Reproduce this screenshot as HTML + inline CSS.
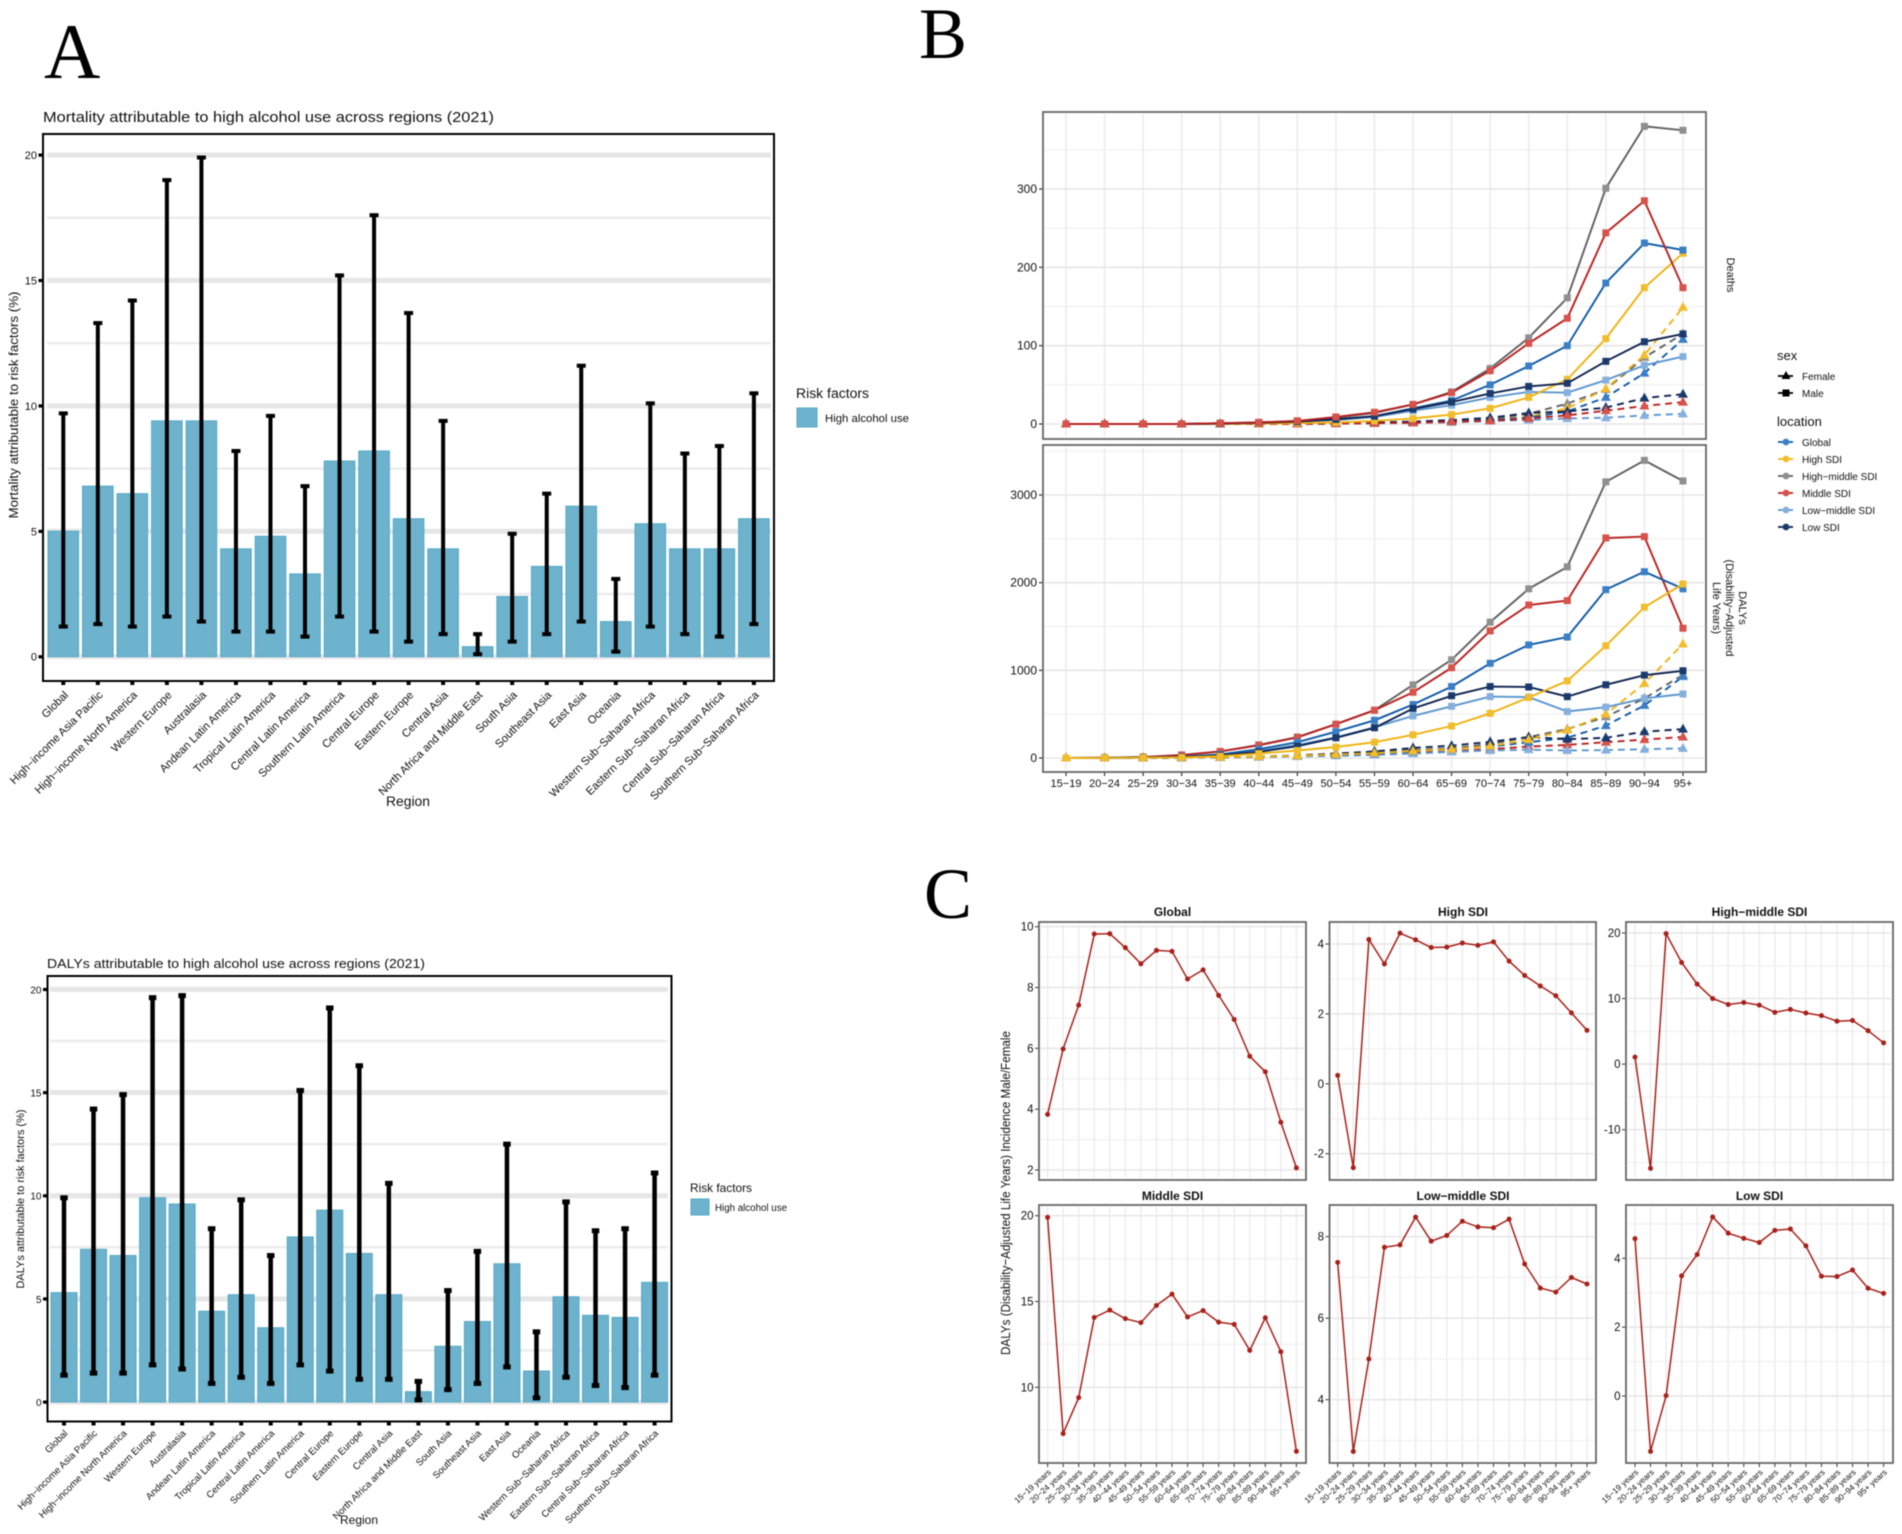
<!DOCTYPE html>
<html lang="en">
<head>
<meta charset="utf-8">
<title>High alcohol use burden figure</title>
<style>
html,body{margin:0;padding:0;background:#fff;}
svg{display:block;filter:blur(0.5px);}
text{font-family:"Liberation Sans",sans-serif;fill:#111;}
.letter{font-family:"Liberation Serif",serif;fill:#000;}
</style>
</head>
<body>
<svg id="figure" xmlns="http://www.w3.org/2000/svg" width="1902" height="1534" viewBox="0 0 1902 1534">
  <rect x="0" y="0" width="1902" height="1534" fill="#fff"/>

  <text class="letter" x="44" y="78" font-size="78">A</text>
  <text class="letter" x="919" y="58" font-size="72">B</text>
  <text class="letter" x="924" y="918" font-size="72">C</text>

  <!-- Panel A top -->
  <g>
    <text x="43" y="122" font-size="14.5" textLength="451" lengthAdjust="spacingAndGlyphs">Mortality attributable to high alcohol use across regions (2021)</text>
    <g id="a1-plot"></g>
    <rect x="43" y="134" width="731" height="547" fill="none" stroke="#000" stroke-width="2"/>
    <text transform="translate(18,405) rotate(-90)" text-anchor="middle" font-size="13" textLength="227" lengthAdjust="spacingAndGlyphs">Mortality attributable to risk factors (%)</text>
    <text x="408" y="806" text-anchor="middle" font-size="13.5" textLength="44" lengthAdjust="spacingAndGlyphs">Region</text>
    <text x="796" y="398" font-size="13.5" textLength="73" lengthAdjust="spacingAndGlyphs">Risk factors</text>
    <rect x="797" y="408" width="20" height="19" fill="#6db3cd" stroke="#55a8c6"/>
    <text x="825" y="422" font-size="11" textLength="84" lengthAdjust="spacingAndGlyphs">High alcohol use</text>
  </g>

  <!-- Panel A bottom -->
  <g>
    <text x="47" y="968" font-size="13" textLength="378" lengthAdjust="spacingAndGlyphs">DALYs attributable to high alcohol use across regions (2021)</text>
    <g id="a2-plot"></g>
    <rect x="47.5" y="976" width="624" height="445.5" fill="none" stroke="#000" stroke-width="2"/>
    <text transform="translate(24,1199) rotate(-90)" text-anchor="middle" font-size="11" textLength="179" lengthAdjust="spacingAndGlyphs">DALYs attributable to risk factors (%)</text>
    <text x="359" y="1524" text-anchor="middle" font-size="12" textLength="38" lengthAdjust="spacingAndGlyphs">Region</text>
    <text x="690" y="1192" font-size="12" textLength="62" lengthAdjust="spacingAndGlyphs">Risk factors</text>
    <rect x="691" y="1199" width="18" height="16" fill="#6db3cd" stroke="#55a8c6"/>
    <text x="715" y="1211" font-size="10" textLength="72" lengthAdjust="spacingAndGlyphs">High alcohol use</text>
  </g>

  <!-- Panel B -->
  <g>
    <g id="b1-plot"></g>
    <rect x="1043" y="112" width="663" height="327" fill="none" stroke="#666" stroke-width="1.8"/>
    <g id="b2-plot"></g>
    <rect x="1043" y="445" width="663" height="327" fill="none" stroke="#666" stroke-width="1.8"/>
    <text transform="translate(1727,275) rotate(90)" text-anchor="middle" font-size="11">Deaths</text>
    <text transform="translate(1739,608) rotate(90)" text-anchor="middle" font-size="11">DALYs</text>
    <text transform="translate(1726,608) rotate(90)" text-anchor="middle" font-size="11">(Disability−Adjusted</text>
    <text transform="translate(1713,608) rotate(90)" text-anchor="middle" font-size="11">Life Years)</text>

    <g>
      <text x="1777" y="360" font-size="13">sex</text>
      <line x1="1778" y1="376" x2="1793" y2="376" stroke="#000" stroke-width="1.8"/>
      <polygon points="1786,371 1790.5,379 1781.5,379" fill="#000"/>
      <text x="1802" y="380" font-size="10">Female</text>
      <line x1="1778" y1="393" x2="1793" y2="393" stroke="#000" stroke-width="1.8"/>
      <rect x="1782.5" y="389.5" width="7" height="7" fill="#000"/>
      <text x="1802" y="397" font-size="10">Male</text>
    </g>
    <g>
      <text x="1777" y="426" font-size="13">location</text>
      <line x1="1778" y1="442" x2="1793" y2="442" stroke="#0f5aa6" stroke-width="1.8"/>
      <circle cx="1786" cy="442" r="3.4" fill="#3a7fc6"/>
      <text x="1802" y="446" font-size="10">Global</text>
      <line x1="1778" y1="459" x2="1793" y2="459" stroke="#efb20f" stroke-width="1.8"/>
      <circle cx="1786" cy="459" r="3.4" fill="#f2bd2c"/>
      <text x="1802" y="463" font-size="10">High SDI</text>
      <line x1="1778" y1="476" x2="1793" y2="476" stroke="#5f5f5f" stroke-width="1.8"/>
      <circle cx="1786" cy="476" r="3.4" fill="#8f8f8f"/>
      <text x="1802" y="480" font-size="10">High−middle SDI</text>
      <line x1="1778" y1="493" x2="1793" y2="493" stroke="#b8201f" stroke-width="1.8"/>
      <circle cx="1786" cy="493" r="3.4" fill="#d6524a"/>
      <text x="1802" y="497" font-size="10">Middle SDI</text>
      <line x1="1778" y1="510" x2="1793" y2="510" stroke="#5b96cf" stroke-width="1.8"/>
      <circle cx="1786" cy="510" r="3.4" fill="#86b0dc"/>
      <text x="1802" y="514" font-size="10">Low−middle SDI</text>
      <line x1="1778" y1="527" x2="1793" y2="527" stroke="#0f2350" stroke-width="1.8"/>
      <circle cx="1786" cy="527" r="3.4" fill="#1a3a6e"/>
      <text x="1802" y="531" font-size="10">Low SDI</text>
    </g>
  </g>

  <!-- Panel C -->
  <g>
    <text transform="translate(1010,1193) rotate(-90)" text-anchor="middle" font-size="13" textLength="324" lengthAdjust="spacingAndGlyphs">DALYs (Disability−Adjusted Life Years) Incidence Male/Female</text>
    <text x="1172.5" y="916" text-anchor="middle" font-size="12" font-weight="bold">Global</text>
    <text x="1463" y="916" text-anchor="middle" font-size="12" font-weight="bold">High SDI</text>
    <text x="1759.5" y="916" text-anchor="middle" font-size="12" font-weight="bold">High−middle SDI</text>
    <text x="1172.5" y="1200" text-anchor="middle" font-size="12" font-weight="bold">Middle SDI</text>
    <text x="1463" y="1200" text-anchor="middle" font-size="12" font-weight="bold">Low−middle SDI</text>
    <text x="1759.5" y="1200" text-anchor="middle" font-size="12" font-weight="bold">Low SDI</text>
    <g id="c-plots"></g>
  </g>
</svg>

<script>
/* ---------- Panel A data ---------- */
const regions = ["Global","High−income Asia Pacific","High−income North America","Western Europe","Australasia","Andean Latin America","Tropical Latin America","Central Latin America","Southern Latin America","Central Europe","Eastern Europe","Central Asia","North Africa and Middle East","South Asia","Southeast Asia","East Asia","Oceania","Western Sub−Saharan Africa","Eastern Sub−Saharan Africa","Central Sub−Saharan Africa","Southern Sub−Saharan Africa"];
const mortalityMeans = [5.0,6.8,6.5,9.4,9.4,4.3,4.8,3.3,7.8,8.2,5.5,4.3,0.4,2.4,3.6,6.0,1.4,5.3,4.3,4.3,5.5];
const mortalityUpper = [9.7,13.3,14.2,19.0,19.9,8.2,9.6,6.8,15.2,17.6,13.7,9.4,0.9,4.9,6.5,11.6,3.1,10.1,8.1,8.4,10.5];
const mortalityLower = [1.2,1.3,1.2,1.6,1.4,1.0,1.0,0.8,1.6,1.0,0.6,0.9,0.1,0.6,0.9,1.4,0.2,1.2,0.9,0.8,1.3];
const dalyMeans = [5.3,7.4,7.1,9.9,9.6,4.4,5.2,3.6,8.0,9.3,7.2,5.2,0.5,2.7,3.9,6.7,1.5,5.1,4.2,4.1,5.8];
const dalyUpper = [9.9,14.2,14.9,19.6,19.7,8.4,9.8,7.1,15.1,19.1,16.3,10.6,1.0,5.4,7.3,12.5,3.4,9.7,8.3,8.4,11.1];
const dalyLower = [1.3,1.4,1.4,1.8,1.6,0.9,1.2,0.9,1.8,1.5,1.1,1.1,0.1,0.6,0.9,1.7,0.2,1.2,0.8,0.7,1.3];
const barMajorTicks = [0,5,10,15,20];
const barMinorTicks = [2.5,7.5,12.5,17.5];

/* ---------- Panel B data ---------- */
const ageGroups = ["15−19","20−24","25−29","30−34","35−39","40−44","45−49","50−54","55−59","60−64","65−69","70−74","75−79","80−84","85−89","90−94","95+"];
const deathsTicks = [0,100,200,300];
const deathsMinorTicks = [50,150,250,350];
const dalysTicks = [0,1000,2000,3000];
const dalysMinorTicks = [500,1500,2500,3500];

const deathsMaleGlobal = [0,0,0,0,0.5,2,3,6,10,20,30,50,74,100,180,231,222];
const deathsMaleHigh = [0,0,0,0,0,0.5,1,2,4,7,12,20,34,57,109,174,218];
const deathsMaleHighMiddle = [0,0,0,0,1,2,4,8,14,25,41,71,110,161,301,380,375];
const deathsMaleMiddle = [0,0,0,0,1,2,4,9,15,25,40,68,103,135,244,285,174];
const deathsMaleLowMiddle = [0,0,0,0,0.5,1.5,3,5,9,17,24,34,41,40,56,75,86];
const deathsMaleLow = [0,0,0,0,0.5,1.5,3,6,10,19,28,39,48,52,80,105,115];
const deathsFemaleGlobal = [0,0,0,0,0,0,0,1,1,2,3,5,8,16,34,65,108];
const deathsFemaleHigh = [0,0,0,0,0,0,0,0.5,1,2,3,5,9,20,45,88,149];
const deathsFemaleHighMiddle = [0,0,0,0,0,0,0,0.5,1,2,3,6,13,26,44,85,115];
const deathsFemaleMiddle = [0,0,0,0,0,0,0,0.5,1,1.5,3,4,7,11,17,23,28];
const deathsFemaleLowMiddle = [0,0,0,0,0,0,0,0.5,1,1.5,2,4,5,7,8,11,13];
const deathsFemaleLow = [0,0,0,0,0,0,0.5,1,2,3,5,8,14,16,21,33,38];

const dalysMaleGlobal = [0,2,5,15,40,100,180,300,430,610,815,1080,1290,1380,1920,2125,1930];
const dalysMaleHigh = [0,1,3,8,20,50,85,125,180,265,365,510,690,880,1280,1720,1985];
const dalysMaleHighMiddle = [0,3,10,30,75,150,240,385,545,835,1120,1550,1930,2180,3150,3395,3160];
const dalysMaleMiddle = [0,3,10,35,75,145,235,385,545,750,1030,1450,1745,1795,2510,2525,1480];
const dalysMaleLowMiddle = [0,2,5,12,35,80,150,235,350,480,590,700,695,530,580,680,730];
const dalysMaleLow = [0,1,4,12,30,70,135,230,345,565,710,815,810,700,835,945,995];
const dalysFemaleGlobal = [0,0,1,4,8,15,25,35,50,75,100,130,180,230,370,600,930];
const dalysFemaleHigh = [0,0,1,5,8,15,25,40,55,80,100,135,210,320,500,850,1300];
const dalysFemaleHighMiddle = [0,0,1,5,8,15,25,40,60,90,110,160,240,330,470,680,950];
const dalysFemaleMiddle = [0,0,1,4,6,12,20,30,40,55,75,100,130,150,180,210,240];
const dalysFemaleLowMiddle = [0,0,1,3,5,10,18,25,35,50,70,85,95,85,90,100,110];
const dalysFemaleLow = [0,0,1,4,8,15,30,50,75,115,140,185,240,215,230,300,330];

/* ---------- Panel C data ---------- */
const ageLabels = ["15−19 years","20−24 years","25−29 years","30−34 years","35−39 years","40−44 years","45−49 years","50−54 years","55−59 years","60−64 years","65−69 years","70−74 years","75−79 years","80−84 years","85−89 years","90−94 years","95+ years"];
const ratioGlobal = [3.83,5.98,7.42,9.76,9.77,9.31,8.78,9.22,9.19,8.28,8.58,7.74,6.95,5.74,5.23,3.57,2.07];
const ratioHigh = [0.24,-2.40,4.13,3.43,4.31,4.12,3.90,3.91,4.03,3.96,4.06,3.51,3.10,2.80,2.52,2.03,1.53];
const ratioHighMiddle = [1.07,-15.9,19.9,15.5,12.2,10.0,9.1,9.4,9.0,7.9,8.35,7.8,7.4,6.55,6.65,5.1,3.25];
const ratioMiddle = [19.9,7.3,9.4,14.07,14.5,14.0,13.77,14.77,15.43,14.1,14.47,13.8,13.67,12.15,14.05,12.07,6.27];
const ratioLowMiddle = [7.37,2.73,5.0,7.74,7.8,8.48,7.89,8.03,8.38,8.24,8.22,8.43,7.33,6.74,6.64,7.0,6.84];
const ratioLow = [4.57,-1.61,0.01,3.49,4.11,5.2,4.73,4.58,4.46,4.81,4.85,4.36,3.48,3.47,3.66,3.13,2.98];
const ticksGlobal = [2,4,6,8,10];
const minorGlobal = [3,5,7,9];
const ticksHigh = [-2,0,2,4];
const minorHigh = [-1,1,3];
const ticksHighMiddle = [-10,0,10,20];
const minorHighMiddle = [-15,-5,5,15];
const ticksMiddle = [10,15,20];
const minorMiddle = [7.5,12.5,17.5];
const ticksLowMiddle = [4,6,8];
const minorLowMiddle = [3,5,7];
const ticksLow = [0,2,4];
const minorLow = [-1,1,3,5];

/* ---------- helpers ---------- */
const NS = "http://www.w3.org/2000/svg";
function make(tag, attrs, parent) {
  const el = document.createElementNS(NS, tag);
  for (const k in attrs) el.setAttribute(k, attrs[k]);
  parent.appendChild(el);
  return el;
}
function linearAxis(vA, pxA, vB, pxB) {
  return function (v) { return pxA + (v - vA) * (pxB - pxA) / (vB - vA); };
}
function bandAxis(first, step) {
  return function (i) { return first + i * step; };
}

/* ---------- bar charts ---------- */
function drawBars(g, L, means, upper, lower) {
  const x = bandAxis(L.firstX, L.stepX);
  const y = linearAxis(0, L.y0, 20, L.y20);
  barMinorTicks.forEach(function (t) {
    const el = make("line", {x1: L.gridL, x2: L.gridR, y1: y(t), y2: y(t), stroke: "#ececec", "stroke-width": 2.5}, g);
    
    
  });
  barMajorTicks.forEach(function (t) {
    const el = make("line", {x1: L.gridL, x2: L.gridR, y1: y(t), y2: y(t), stroke: "#e6e6e6", "stroke-width": 5}, g);
    
    
    const tick = make("rect", {x: L.left - 4.5, y: y(t) - 1.5, width: 4.5, height: 3.2, fill: "#000"}, g);
    
    
    const lab = make("text", {x: L.left - 6, y: y(t) + 4, "text-anchor": "end", "font-size": L.tickFont, fill: "#222"}, g);
    lab.textContent = String(t);
    
    
  });
  regions.forEach(function (name, i) {
    const bar = make("rect", {x: x(i) - L.barW / 2, y: y(means[i]), width: L.barW, height: y(0) - y(means[i]), fill: "#6db3cd", stroke: "#55a8c6", "stroke-width": 1}, g);
    
    
  });
  regions.forEach(function (name, i) {
    const err = make("line", {x1: x(i), x2: x(i), y1: y(upper[i]), y2: y(lower[i]), stroke: "#000", "stroke-width": L.errW}, g);
    
    
    const capTop = make("rect", {x: x(i) - L.capW / 2, y: y(upper[i]) - L.capH / 2, width: L.capW, height: L.capH, fill: "#000"}, g);
    
    
    const capBottom = make("rect", {x: x(i) - L.capW / 2, y: y(lower[i]) - L.capH / 2, width: L.capW, height: L.capH, fill: "#000"}, g);
    
    
    const tick = make("rect", {x: x(i) - 2, y: L.bottom, width: 4, height: 4, fill: "#000"}, g);
    
    
    const lab = make("text", {transform: "translate(" + (x(i) + L.labDx) + "," + L.labY + ") rotate(-45)", "text-anchor": "end", "font-size": L.labFont, fill: "#333"}, g);
    lab.textContent = name;
    
    
  });
}
drawBars(document.getElementById("a1-plot"),
  {firstX: 63.3, stepX: 34.53, y0: 656.7, y20: 155, barW: 30.6, gridL: 47, gridR: 771, left: 43, bottom: 681, errW: 4, capW: 9, capH: 4, tickFont: 11, labFont: 11.2, labDx: 5.6, labY: 695.7},
  mortalityMeans, mortalityUpper, mortalityLower);
drawBars(document.getElementById("a2-plot"),
  {firstX: 64, stepX: 29.53, y0: 1402, y20: 989.4, barW: 26, gridL: 50, gridR: 668, left: 47.5, bottom: 1421.5, errW: 4.5, capW: 7.5, capH: 5, tickFont: 10, labFont: 9.6, labDx: 4.3, labY: 1434},
  dalyMeans, dalyUpper, dalyLower);

/* ---------- panel B ---------- */
const palette = {
  global: {line: "#0f5aa6", mark: "#3a7fc6"},
  high: {line: "#efb20f", mark: "#f2bd2c"},
  highMiddle: {line: "#5f5f5f", mark: "#8f8f8f"},
  middle: {line: "#b8201f", mark: "#d6524a"},
  lowMiddle: {line: "#5b96cf", mark: "#86b0dc"},
  low: {line: "#0f2350", mark: "#1a3a6e"}
};
const deathsSeries = [
  ["lowMiddle", deathsMaleLowMiddle, deathsFemaleLowMiddle],
  ["highMiddle", deathsMaleHighMiddle, deathsFemaleHighMiddle],
  ["high", deathsMaleHigh, deathsFemaleHigh],
  ["global", deathsMaleGlobal, deathsFemaleGlobal],
  ["low", deathsMaleLow, deathsFemaleLow],
  ["middle", deathsMaleMiddle, deathsFemaleMiddle]
];
const dalysSeries = [
  ["highMiddle", dalysMaleHighMiddle, dalysFemaleHighMiddle],
  ["middle", dalysMaleMiddle, dalysFemaleMiddle],
  ["lowMiddle", dalysMaleLowMiddle, dalysFemaleLowMiddle],
  ["global", dalysMaleGlobal, dalysFemaleGlobal],
  ["low", dalysMaleLow, dalysFemaleLow],
  ["high", dalysMaleHigh, dalysFemaleHigh]
];
function pathFrom(values, x, y) {
  return values.map(function (v, i) { return (i ? "L" : "M") + x(i).toFixed(1) + " " + y(v).toFixed(1); }).join(" ");
}
function drawTrend(g, L, y, ticks, minor, series, showX) {
  const x = bandAxis(1066, 38.56);
  minor.forEach(function (t) {
    if (y(t) < L.top) return;
    const el = make("line", {x1: 1045, x2: 1704, y1: y(t), y2: y(t), stroke: "#f0f0f0", "stroke-width": 1.2}, g);
    
    
  });
  ageGroups.forEach(function (name, i) {
    const el = make("line", {x1: x(i), x2: x(i), y1: L.top + 2, y2: L.bottom - 2, stroke: "#ebebeb", "stroke-width": 1.5}, g);
    
    
    if (showX) {
      const tick = make("line", {x1: x(i), x2: x(i), y1: L.bottom, y2: L.bottom + 4, stroke: "#333", "stroke-width": 1.2}, g);
      
      
      const lab = make("text", {x: x(i), y: L.bottom + 15, "text-anchor": "middle", "font-size": 11, fill: "#222"}, g);
      lab.textContent = name;
      
      
    }
  });
  ticks.forEach(function (t) {
    const el = make("line", {x1: 1045, x2: 1704, y1: y(t), y2: y(t), stroke: "#e8e8e8", "stroke-width": 1.8}, g);
    
    
    const tick = make("line", {x1: 1039, x2: 1043, y1: y(t), y2: y(t), stroke: "#333", "stroke-width": 1.2}, g);
    
    
    const lab = make("text", {x: 1037, y: y(t) + 4, "text-anchor": "end", "font-size": 12, fill: "#222"}, g);
    lab.textContent = String(t);
    
    
  });
  series.forEach(function (s) {
    const c = palette[s[0]];
    const femaleLine = make("path", {d: pathFrom(s[2], x, y), fill: "none", stroke: c.line, "stroke-width": 1.9, "stroke-dasharray": "7 5"}, g);
    
    
    s[2].forEach(function (v, i) {
      const px = x(i), py = y(v);
      const tri = make("polygon", {points: (px) + "," + (py - 5.5) + " " + (px + 5) + "," + (py + 3.5) + " " + (px - 5) + "," + (py + 3.5), fill: c.mark}, g);
      
      
    });
  });
  series.forEach(function (s) {
    const c = palette[s[0]];
    const maleLine = make("path", {d: pathFrom(s[1], x, y), fill: "none", stroke: c.line, "stroke-width": 1.9}, g);
    
    
    s[1].forEach(function (v, i) {
      const sq = make("rect", {x: x(i) - 3.5, y: y(v) - 3.5, width: 7, height: 7, fill: c.mark}, g);
      
      
    });
  });
}
drawTrend(document.getElementById("b1-plot"), {top: 112, bottom: 439}, linearAxis(0, 424, 300, 189), deathsTicks, deathsMinorTicks, deathsSeries, false);
drawTrend(document.getElementById("b2-plot"), {top: 445, bottom: 772}, linearAxis(0, 758, 3000, 495), dalysTicks, dalysMinorTicks, dalysSeries, true);

/* ---------- panel C ---------- */
const facets = [
  {values: ratioGlobal, ticks: ticksGlobal, minor: minorGlobal, left: 1039, right: 1306, top: 922, bottom: 1180, firstX: 1047.6, lastX: 1296.4, y: linearAxis(10, 926.7, 2, 1170), labels: false},
  {values: ratioHigh, ticks: ticksHigh, minor: minorHigh, left: 1329.5, right: 1596, top: 922, bottom: 1180, firstX: 1337.7, lastX: 1587, y: linearAxis(4, 944, -2, 1153.7), labels: false},
  {values: ratioHighMiddle, ticks: ticksHighMiddle, minor: minorHighMiddle, left: 1626, right: 1893, top: 922, bottom: 1180, firstX: 1635, lastX: 1883.6, y: linearAxis(20, 933, -10, 1129.7), labels: false},
  {values: ratioMiddle, ticks: ticksMiddle, minor: minorMiddle, left: 1039, right: 1306, top: 1205, bottom: 1463, firstX: 1047.6, lastX: 1296.4, y: linearAxis(20, 1215.7, 10, 1387.3), labels: true},
  {values: ratioLowMiddle, ticks: ticksLowMiddle, minor: minorLowMiddle, left: 1329.5, right: 1596, top: 1205, bottom: 1463, firstX: 1337.7, lastX: 1587, y: linearAxis(8, 1236.7, 4, 1399.7), labels: true},
  {values: ratioLow, ticks: ticksLow, minor: minorLow, left: 1626, right: 1893, top: 1205, bottom: 1463, firstX: 1635, lastX: 1883.6, y: linearAxis(4, 1258.3, 0, 1396), labels: true}
];
const cRoot = document.getElementById("c-plots");
facets.forEach(function (F) {
  const g = make("g", {}, cRoot);
  
  
  const x = bandAxis(F.firstX, (F.lastX - F.firstX) / (F.values.length - 1));
  F.minor.forEach(function (t) {
    const el = make("line", {x1: F.left + 2, x2: F.right - 2, y1: F.y(t), y2: F.y(t), stroke: "#f1f1f1", "stroke-width": 1.2}, g);
    
    
  });
  ageLabels.forEach(function (name, i) {
    const el = make("line", {x1: x(i), x2: x(i), y1: F.top + 2, y2: F.bottom - 2, stroke: "#ebebeb", "stroke-width": 1.3}, g);
    
    
    if (F.labels) {
      const tick = make("line", {x1: x(i), x2: x(i), y1: F.bottom, y2: F.bottom + 4, stroke: "#333", "stroke-width": 1}, g);
      
      
      const lab = make("text", {transform: "translate(" + (x(i) + 4) + "," + (F.bottom + 10) + ") rotate(-42)", "text-anchor": "end", "font-size": 8.3, fill: "#333"}, g);
      lab.textContent = name;
      
      
    }
  });
  F.ticks.forEach(function (t) {
    const el = make("line", {x1: F.left + 2, x2: F.right - 2, y1: F.y(t), y2: F.y(t), stroke: "#e8e8e8", "stroke-width": 1.7}, g);
    
    
    const tick = make("line", {x1: F.left - 4, x2: F.left, y1: F.y(t), y2: F.y(t), stroke: "#333", "stroke-width": 1}, g);
    
    
    const lab = make("text", {x: F.left - 5.5, y: F.y(t) + 4, "text-anchor": "end", "font-size": 11.5, fill: "#222"}, g);
    lab.textContent = String(t);
    
    
  });
  const line = make("path", {d: pathFrom(F.values, x, F.y), fill: "none", stroke: "#a8201a", "stroke-width": 1.5}, g);
  
  
  F.values.forEach(function (v, i) {
    const pt = make("circle", {cx: x(i), cy: F.y(v), r: 2.5, fill: "#a8201a"}, g);
    
    
  });
  const frame = make("rect", {x: F.left, y: F.top, width: F.right - F.left, height: F.bottom - F.top, fill: "none", stroke: "#666", "stroke-width": 1.8}, g);
  
  
});
</script>
</body>
</html>
